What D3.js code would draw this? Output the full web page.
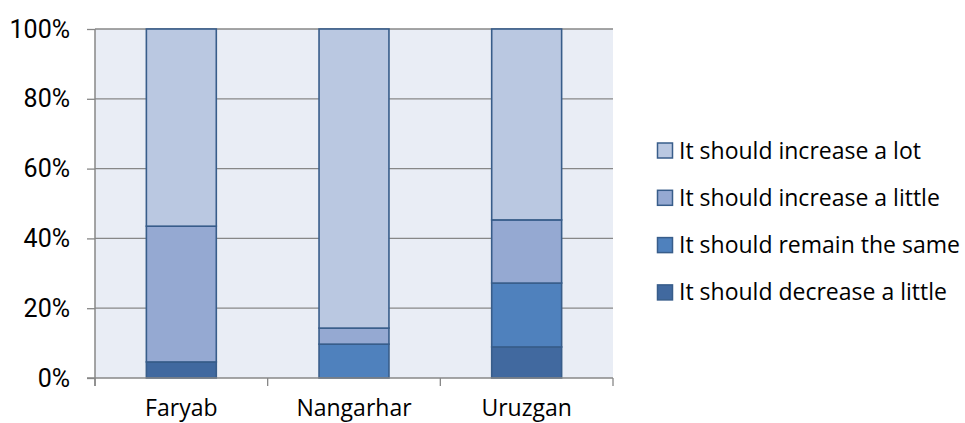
<!DOCTYPE html>
<html><head><meta charset="utf-8">
<script src="https://cdn.jsdelivr.net/npm/d3@7"></script>
<style>body{margin:0;background:#fff}svg{display:block}text{font-family:"Open Sans",sans-serif;fill:#000}</style>
</head><body>
<svg id="c" width="965" height="423"></svg>
<script>
const categories = ["Faryab", "Nangarhar", "Uruzgan"];
const seriesNames = ["It should decrease a little", "It should remain the same", "It should increase a little", "It should increase a lot"];
const decreaseLittle = [4.6, 0, 8.9];
const remainSame = [0, 9.7, 18.3];
const increaseLittle = [38.9, 4.6, 18.1];
const increaseLot = [56.5, 85.7, 54.7];
const yTicks = [0, 20, 40, 60, 80, 100];
const colors = ["#41699F", "#4F81BD", "#95A9D2", "#BAC8E1"];

const seriesValues = [decreaseLittle, remainSame, increaseLittle, increaseLot];
const rows = categories.map((c, i) => {
  const r = {cat: c};
  seriesNames.forEach((s, j) => r[s] = seriesValues[j][i]);
  return r;
});
const stacked = d3.stack().keys(seriesNames)(rows);

const svg = d3.select("#c");
const L = 95, R = 613, T = 29, B = 378;
const x = d3.scaleBand().domain(categories).range([L, R]).paddingInner(0.595).paddingOuter(0.2975);
const y = d3.scaleLinear().domain([0, 100]).range([B, T]);

svg.append("rect").attr("x", L).attr("y", T).attr("width", R - L).attr("height", B - T).attr("fill", "#E9EDF5");

svg.append("g").selectAll("line").data(yTicks.filter(d => d > 0)).join("line")
  .attr("x1", L).attr("x2", R).attr("y1", d => y(d)).attr("y2", d => y(d))
  .attr("stroke", "#878787").attr("stroke-width", 1.3);

svg.append("g").selectAll("g").data(stacked).join("g")
  .attr("fill", (d, i) => colors[i])
  .selectAll("rect").data(d => d.filter(p => p[1] - p[0] > 0)).join("rect")
  .attr("x", d => x(d.data.cat)).attr("width", x.bandwidth())
  .attr("y", d => y(d[1])).attr("height", d => y(d[0]) - y(d[1]))
  .attr("stroke", "#385D8A").attr("stroke-width", 1.6);

const ya = svg.append("g").attr("transform", `translate(${L},0)`)
  .call(d3.axisLeft(y).tickValues(yTicks).tickFormat(d => d + "%").tickSize(8).tickPadding(17));
ya.select(".domain").attr("stroke", "#878787").attr("stroke-width", 1.5).attr("d", `M0,${T}V${B + 8}`);
ya.selectAll(".tick line").attr("stroke", "#878787").attr("stroke-width", 1.3);
ya.selectAll("text").attr("font-size", 25).style("font-family", "Roboto,sans-serif").attr("fill", "#000");

const xa = svg.append("g").attr("transform", `translate(0,${B})`);
xa.append("line").attr("x1", L - 8).attr("x2", R).attr("y1", 0).attr("y2", 0).attr("stroke", "#878787").attr("stroke-width", 1.5);
const bounds = [L, ...categories.slice(1).map(c => x(c) - x.step() * x.paddingInner() / 2), R];
xa.selectAll("line.t").data(bounds).join("line").attr("class", "t")
  .attr("x1", d => d).attr("x2", d => d).attr("y1", 0).attr("y2", 8).attr("stroke", "#878787").attr("stroke-width", 1.3);
xa.selectAll("text").data(categories).join("text")
  .attr("x", d => x(d) + x.bandwidth() / 2).attr("y", 37.5).attr("text-anchor", "middle")
  .attr("font-size", 23).text(d => d);

const legendOrder = [3, 2, 1, 0];
const lg = svg.append("g").selectAll("g").data(legendOrder).join("g")
  .attr("transform", (d, i) => `translate(657,${150.5 + i * 47.3})`);
lg.append("rect").attr("x", 0.5).attr("y", -7.5).attr("width", 15).attr("height", 15)
  .attr("fill", d => colors[d]).attr("stroke", "#385D8A").attr("stroke-width", 1.5);
lg.append("text").attr("x", 22).attr("y", 8).attr("font-size", 23).text(d => seriesNames[d]);
</script>
</body></html>
